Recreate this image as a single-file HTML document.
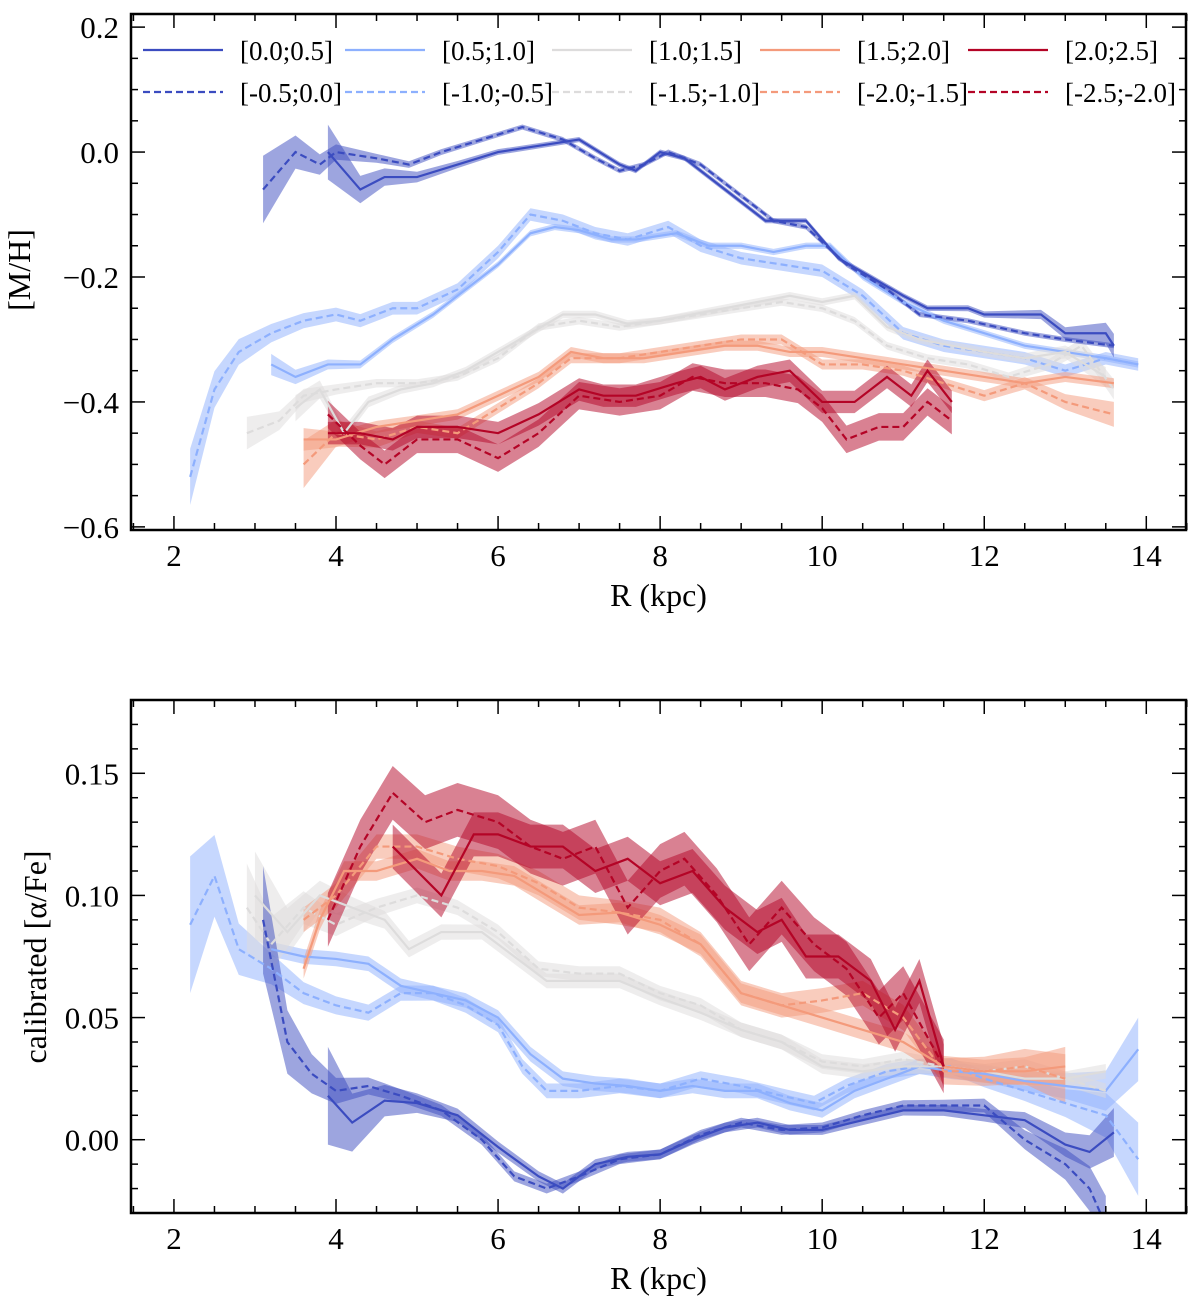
<!DOCTYPE html>
<html><head><meta charset="utf-8"><style>
body{margin:0;background:#fff}
svg text{font-family:"Liberation Serif",serif;fill:#000}
</style></head><body>
<svg id="c" width="1200" height="1298" xmlns="http://www.w3.org/2000/svg"></svg>
<script>
// ---- data: top panel [M/H] ----
const tA_sR=[3.9,4.3,4.6,5.0,5.5,6.0,6.5,7.0,7.5,7.7,8.0,8.3,8.7,9.0,9.3,9.8,10.2,10.6,11.0,11.3,11.8,12.0,12.7,13.0,13.5,13.6];
const tA_sV=[0.0,-0.06,-0.04,-0.04,-0.02,0.0,0.01,0.02,-0.02,-0.03,0.0,-0.01,-0.05,-0.08,-0.11,-0.11,-0.17,-0.2,-0.23,-0.25,-0.25,-0.26,-0.26,-0.29,-0.29,-0.31];
const tA_dR=[3.1,3.5,3.8,4.0,4.5,4.9,5.3,5.8,6.3,6.8,7.2,7.5,7.8,8.1,8.5,9.0,9.4,9.8,10.3,10.8,11.2,11.8,12.5,13.0,13.6];
const tA_dV=[-0.06,0.0,-0.02,0.0,-0.01,-0.02,0.0,0.02,0.04,0.02,-0.01,-0.03,-0.02,0.0,-0.02,-0.07,-0.11,-0.12,-0.18,-0.22,-0.26,-0.27,-0.29,-0.3,-0.31];
const tB_sR=[3.2,3.5,3.9,4.3,4.7,5.2,5.6,6.0,6.4,6.7,7.0,7.4,7.7,8.2,8.6,9.0,9.4,9.8,10.1,10.5,11.0,11.5,12.0,12.5,13.0,13.5,13.9];
const tB_sV=[-0.34,-0.36,-0.34,-0.34,-0.3,-0.26,-0.22,-0.18,-0.13,-0.12,-0.125,-0.14,-0.14,-0.13,-0.15,-0.15,-0.16,-0.15,-0.15,-0.2,-0.24,-0.27,-0.29,-0.31,-0.32,-0.33,-0.34];
const tB_dR=[2.2,2.5,2.8,3.2,3.6,4.0,4.3,4.7,5.0,5.5,6.0,6.4,6.8,7.2,7.6,8.1,8.5,9.0,9.5,10.0,10.5,11.0,11.5,12.0,12.5,13.0,13.5,13.9];
const tB_dV=[-0.52,-0.38,-0.32,-0.29,-0.27,-0.26,-0.27,-0.25,-0.25,-0.22,-0.16,-0.1,-0.11,-0.13,-0.14,-0.12,-0.15,-0.17,-0.18,-0.19,-0.23,-0.29,-0.31,-0.32,-0.33,-0.35,-0.33,-0.34];
const tC_sR=[3.5,3.8,4.1,4.4,4.8,5.2,5.6,6.0,6.4,6.8,7.2,7.6,8.0,8.4,8.8,9.2,9.6,10.0,10.4,10.8,11.2,11.6,12.0,12.5,13.0,13.5];
const tC_sV=[-0.41,-0.38,-0.45,-0.4,-0.38,-0.37,-0.35,-0.32,-0.29,-0.26,-0.26,-0.275,-0.27,-0.26,-0.25,-0.24,-0.23,-0.24,-0.23,-0.28,-0.3,-0.31,-0.32,-0.33,-0.32,-0.36];
const tC_dR=[2.9,3.3,3.6,4.0,4.5,5.0,5.5,6.0,6.5,7.0,7.5,8.0,8.5,9.0,9.5,10.0,10.4,10.8,11.3,11.8,12.3,12.8,13.2,13.6];
const tC_dV=[-0.45,-0.43,-0.39,-0.38,-0.37,-0.37,-0.36,-0.33,-0.28,-0.27,-0.28,-0.27,-0.26,-0.25,-0.24,-0.25,-0.27,-0.31,-0.33,-0.34,-0.36,-0.34,-0.31,-0.38];
const tD_sR=[3.6,4.0,4.5,5.0,5.5,6.0,6.5,6.9,7.3,7.8,8.3,8.8,9.2,9.6,10.0,10.5,11.0,11.5,12.0,12.5,13.0,13.6];
const tD_sV=[-0.46,-0.46,-0.44,-0.43,-0.42,-0.39,-0.36,-0.32,-0.33,-0.33,-0.32,-0.31,-0.31,-0.32,-0.32,-0.33,-0.34,-0.35,-0.36,-0.37,-0.36,-0.37];
const tD_dR=[3.6,4.0,4.5,5.0,5.5,6.0,6.5,6.9,7.5,8.0,8.5,9.0,9.5,10.0,10.5,11.0,11.5,12.0,12.5,13.0,13.6];
const tD_dV=[-0.5,-0.45,-0.46,-0.44,-0.45,-0.41,-0.37,-0.33,-0.33,-0.32,-0.31,-0.3,-0.3,-0.34,-0.34,-0.35,-0.37,-0.39,-0.37,-0.4,-0.42];
const tE_sR=[3.9,4.3,4.7,5.0,5.5,6.0,6.5,7.0,7.3,7.7,8.2,8.5,8.8,9.2,9.6,10.0,10.4,10.8,11.1,11.3,11.6];
const tE_sV=[-0.45,-0.45,-0.46,-0.44,-0.44,-0.45,-0.42,-0.38,-0.39,-0.39,-0.37,-0.36,-0.38,-0.36,-0.35,-0.4,-0.4,-0.36,-0.39,-0.35,-0.4];
const tE_dR=[3.9,4.3,4.6,5.0,5.5,6.0,6.5,7.0,7.5,8.0,8.4,8.8,9.3,9.7,10.0,10.3,10.7,11.0,11.3,11.6];
const tE_dV=[-0.42,-0.47,-0.5,-0.46,-0.46,-0.49,-0.45,-0.39,-0.4,-0.39,-0.36,-0.37,-0.37,-0.38,-0.41,-0.46,-0.44,-0.44,-0.4,-0.43];
// ---- data: bottom panel [alpha/Fe] ----
const bA_sR=[3.9,4.2,4.6,5.0,5.5,6.0,6.5,6.8,7.2,7.6,8.0,8.4,8.8,9.2,9.6,10.0,10.5,11.0,11.5,12.0,12.5,13.0,13.3,13.6];
const bA_sV=[0.018,0.007,0.016,0.015,0.01,-0.003,-0.015,-0.02,-0.01,-0.007,-0.006,0.0,0.005,0.007,0.004,0.004,0.008,0.012,0.012,0.01,0.008,-0.002,-0.005,0.003];
const bA_dR=[3.1,3.4,3.7,4.0,4.4,4.8,5.3,5.8,6.2,6.6,7.0,7.5,8.0,8.5,9.0,9.5,10.0,10.5,11.0,11.5,12.0,12.5,13.0,13.3,13.5];
const bA_dV=[0.09,0.04,0.027,0.02,0.022,0.018,0.012,0.0,-0.015,-0.02,-0.015,-0.008,-0.006,0.002,0.007,0.004,0.005,0.01,0.014,0.014,0.014,0.0,-0.01,-0.02,-0.035];
const bB_sR=[3.2,3.6,4.0,4.4,4.8,5.2,5.6,6.0,6.4,6.8,7.2,7.6,8.0,8.4,8.8,9.2,9.6,10.0,10.4,10.8,11.2,11.6,12.0,12.5,13.0,13.5,13.9];
const bB_sV=[0.078,0.075,0.074,0.072,0.063,0.06,0.057,0.05,0.035,0.025,0.023,0.022,0.02,0.022,0.02,0.02,0.015,0.012,0.02,0.025,0.03,0.028,0.027,0.024,0.022,0.02,0.037];
const bB_dR=[2.2,2.5,2.8,3.2,3.6,4.0,4.4,4.8,5.2,5.6,6.0,6.3,6.6,7.0,7.5,8.0,8.5,9.0,9.5,9.9,10.3,10.8,11.2,11.6,12.0,12.5,13.0,13.5,13.9];
const bB_dV=[0.088,0.108,0.078,0.07,0.06,0.055,0.052,0.06,0.06,0.055,0.047,0.03,0.02,0.02,0.022,0.02,0.025,0.022,0.018,0.015,0.022,0.028,0.03,0.03,0.025,0.02,0.015,0.01,-0.008];
const bC_sR=[3.0,3.4,3.8,4.2,4.6,4.9,5.3,5.8,6.2,6.6,7.0,7.5,8.0,8.5,9.0,9.5,10.0,10.5,11.0,11.5,12.0,12.5,13.0,13.5];
const bC_sV=[0.1,0.085,0.1,0.095,0.09,0.078,0.085,0.085,0.075,0.065,0.065,0.065,0.058,0.052,0.045,0.04,0.03,0.028,0.03,0.03,0.028,0.025,0.025,0.028];
const bC_dR=[2.9,3.2,3.6,4.0,4.5,5.0,5.5,6.0,6.5,7.0,7.5,8.0,8.5,9.0,9.5,10.0,10.5,11.0,11.5,12.0,12.5,13.0,13.5];
const bC_dV=[0.095,0.08,0.095,0.088,0.095,0.1,0.095,0.085,0.07,0.068,0.068,0.06,0.055,0.045,0.04,0.032,0.03,0.033,0.03,0.028,0.03,0.025,0.02];
const bD_sR=[3.6,3.8,4.1,4.5,5.0,5.4,5.8,6.2,6.6,7.0,7.5,8.0,8.5,9.0,9.5,10.0,10.5,11.0,11.5,12.0,12.5,13.0];
const bD_sV=[0.07,0.09,0.11,0.11,0.115,0.11,0.11,0.108,0.1,0.092,0.093,0.088,0.08,0.06,0.055,0.05,0.045,0.04,0.03,0.028,0.028,0.03];
const bD_dR=[3.6,4.0,4.5,5.0,5.5,6.0,6.5,7.0,7.5,8.0,8.5,9.0,9.5,10.0,10.5,11.0,11.5,12.0,12.5,13.0];
const bD_dV=[0.09,0.1,0.12,0.12,0.115,0.112,0.105,0.095,0.093,0.09,0.08,0.06,0.055,0.057,0.06,0.05,0.028,0.028,0.03,0.025];
const bE_sR=[4.7,5.0,5.3,5.7,6.0,6.4,6.8,7.2,7.6,8.0,8.4,8.8,9.2,9.5,9.8,10.2,10.6,10.9,11.2,11.5];
const bE_sV=[0.12,0.11,0.1,0.125,0.125,0.12,0.12,0.11,0.115,0.105,0.11,0.095,0.085,0.09,0.075,0.075,0.065,0.045,0.065,0.03];
const bE_dR=[3.9,4.3,4.7,5.1,5.5,6.0,6.4,6.8,7.2,7.6,8.0,8.3,8.7,9.1,9.5,9.9,10.3,10.7,11.0,11.5];
const bE_dV=[0.09,0.12,0.142,0.13,0.135,0.13,0.12,0.115,0.12,0.095,0.11,0.115,0.1,0.08,0.095,0.08,0.07,0.05,0.06,0.03];
const xTicks=[2,4,6,8,10,12,14];
const topTicks=[0.2,0.0,-0.2,-0.4,-0.6];
const topTickLabels=["0.2","0.0","\u22120.2","\u22120.4","\u22120.6"];
const botTicks=[0.15,0.10,0.05,0.00];
const botTickLabels=["0.15","0.10","0.05","0.00"];
const legendLabels=["[0.0;0.5]","[0.5;1.0]","[1.0;1.5]","[1.5;2.0]","[2.0;2.5]"];
const legendLabels2=["[-0.5;0.0]","[-1.0;-0.5]","[-1.5;-1.0]","[-2.0;-1.5]","[-2.5;-2.0]"];
const colors=["#3b4cc0","#8db0fe","#dddcdc","#f49a7b","#b40426"];

const NS="http://www.w3.org/2000/svg";
const svg=document.getElementById('c');
function mk(tag,attrs,parent){const e=document.createElementNS(NS,tag);for(const k in attrs)e.setAttribute(k,attrs[k]);(parent||svg).appendChild(e);return e;}
const X0=131,X1=1186,xd=[1.47,14.49];
const xs=v=>X0+(v-xd[0])/(xd[1]-xd[0])*(X1-X0);
const FS=31;

function errAt(s,i){const r=s.R[i],r0=s.R[0],r1=s.R[s.R.length-1];
  return s.e+(s.s||0)*Math.exp(-(r-r0)/0.5)+(s.t||0)*Math.exp(-(r1-r)/0.6);}

function panel(name,Y0,Y1,yd,series,ticks,tlabels,minorStep,ylabel,ylx,yly){
  const ys=v=>Y1-(v-yd[0])/(yd[1]-yd[0])*(Y1-Y0);
  const g=mk('g',{});
  
  
  const clipId=name+'-clip';
  const cp=mk('clipPath',{id:clipId},g);mk('rect',{x:X0,y:Y0,width:X1-X0,height:Y1-Y0},cp);
  const pg=mk('g',{'clip-path':'url(#'+clipId+')'},g);
  series.forEach((s)=>{
    const up=s.R.map((r,i)=>xs(r)+','+ys(s.V[i]+errAt(s,i))).join(' ');
    const dn=s.R.map((r,i)=>xs(r)+','+ys(s.V[i]-errAt(s,i))).reverse().join(' ');
    const b=mk('polygon',{points:up+' '+dn,fill:s.c,'fill-opacity':0.5,stroke:'none'},pg);
    
    
  });
  series.forEach((s)=>{
    const pts=s.R.map((r,i)=>xs(r)+','+ys(s.V[i])).join(' ');
    const a={points:pts,fill:'none',stroke:s.c,'stroke-width':2.2};
    if(s.d)a['stroke-dasharray']='7,4';
    const l=mk('polyline',a,pg);
    
    
  });
  const fr=mk('rect',{x:X0,y:Y0,width:X1-X0,height:Y1-Y0,fill:'none',stroke:'#000','stroke-width':2.5},g);
  
  
  for(let v=1.5;v<=14.5;v+=0.5){const x=xs(v);const L=(Math.abs(v%2)<1e-6)?14:7;
    mk('line',{x1:x,x2:x,y1:Y1,y2:Y1-L,stroke:'#000','stroke-width':1.5},g);
    mk('line',{x1:x,x2:x,y1:Y0,y2:Y0+L,stroke:'#000','stroke-width':1.5},g);}
  xTicks.forEach(v=>{const t=mk('text',{x:xs(v),y:Y1+36,'font-size':FS,'text-anchor':'middle'},g);t.textContent=v;
    
    });
  for(let v=yd[0]-(yd[0]%minorStep);v<=yd[1];v+=minorStep){if(v<yd[0])continue;const y=ys(v);
    const major=ticks.some(t=>Math.abs(t-v)<minorStep/3);const L=major?14:7;
    mk('line',{x1:X0,x2:X0+L,y1:y,y2:y,stroke:'#000','stroke-width':1.5},g);
    mk('line',{x1:X1,x2:X1-L,y1:y,y2:y,stroke:'#000','stroke-width':1.5},g);}
  ticks.forEach((v,i)=>{const t=mk('text',{x:X0-12,y:ys(v)+11,'font-size':FS,'text-anchor':'end'},g);t.textContent=tlabels[i];
    
    });
  const xl=mk('text',{x:(X0+X1)/2,y:Y1+76,'font-size':32,'text-anchor':'middle'},g);xl.textContent='R (kpc)';
  
  
  const yl=mk('text',{x:ylx,y:yly,'font-size':32,'text-anchor':'middle',transform:'rotate(-90 '+ylx+' '+yly+')'},g);yl.textContent=ylabel;
  
  
}
const topS=[
 {n:'top-b-dashed',R:tB_dR,V:tB_dV,e:0.01,s:0.035,c:colors[1],d:1},{n:'top-b-solid',R:tB_sR,V:tB_sV,e:0.005,s:0.012,c:colors[1]},
 {n:'top-c-dashed',R:tC_dR,V:tC_dV,e:0.006,s:0.02,t:0.01,c:colors[2],d:1},{n:'top-c-solid',R:tC_sR,V:tC_sV,e:0.006,s:0.015,t:0.01,c:colors[2]},
 {n:'top-d-dashed',R:tD_dR,V:tD_dV,e:0.008,s:0.03,t:0.012,c:colors[3],d:1},{n:'top-d-solid',R:tD_sR,V:tD_sV,e:0.008,s:0.01,c:colors[3]},
 {n:'top-e-dashed',R:tE_dR,V:tE_dV,e:0.022,c:colors[4],d:1},{n:'top-e-solid',R:tE_sR,V:tE_sV,e:0.018,c:colors[4]},
 {n:'top-a-dashed',R:tA_dR,V:tA_dV,e:0.004,s:0.05,c:colors[0],d:1},{n:'top-a-solid',R:tA_sR,V:tA_sV,e:0.004,s:0.04,t:0.015,c:colors[0]}];
const botS=[
 {n:'bot-b-dashed',R:bB_dR,V:bB_dV,e:0.003,s:0.025,t:0.012,c:colors[1],d:1},{n:'bot-b-solid',R:bB_sR,V:bB_sV,e:0.003,t:0.01,c:colors[1]},
 {n:'bot-c-dashed',R:bC_dR,V:bC_dV,e:0.003,s:0.015,c:colors[2],d:1},{n:'bot-c-solid',R:bC_sR,V:bC_sV,e:0.003,s:0.015,c:colors[2]},
 {n:'bot-d-dashed',R:bD_dR,V:bD_dV,e:0.005,t:0.005,c:colors[3],d:1},{n:'bot-d-solid',R:bD_sR,V:bD_sV,e:0.004,t:0.004,c:colors[3]},
 {n:'bot-e-dashed',R:bE_dR,V:bE_dV,e:0.011,c:colors[4],d:1},{n:'bot-e-solid',R:bE_sR,V:bE_sV,e:0.009,c:colors[4]},
 {n:'bot-a-dashed',R:bA_dR,V:bA_dV,e:0.002,s:0.02,t:0.01,c:colors[0],d:1},{n:'bot-a-solid',R:bA_sR,V:bA_sV,e:0.002,s:0.018,t:0.008,c:colors[0]}];
panel('top-panel',14,530,[-0.605,0.221],topS,topTicks,topTickLabels,0.05,'[M/H]',30,270);
panel('bottom-panel',700,1213,[-0.030,0.180],botS,botTicks,botTickLabels,0.01,'calibrated [\u03b1/Fe]',46,957);
const lx=[143,345,552,760,968];
const lg=mk('g',{});


lx.forEach((x,i)=>{
  mk('line',{x1:x,x2:x+80,y1:50,y2:50,stroke:colors[i],'stroke-width':2.2},lg);
  mk('line',{x1:x,x2:x+80,y1:92,y2:92,stroke:colors[i],'stroke-width':2.2,'stroke-dasharray':'7,4'},lg);
  const t1=mk('text',{x:x+97,y:60,'font-size':27},lg);t1.textContent=legendLabels[i];
  
  
  const t2=mk('text',{x:x+97,y:102,'font-size':27},lg);t2.textContent=legendLabels2[i];
  
  
});
</script>
</body></html>
